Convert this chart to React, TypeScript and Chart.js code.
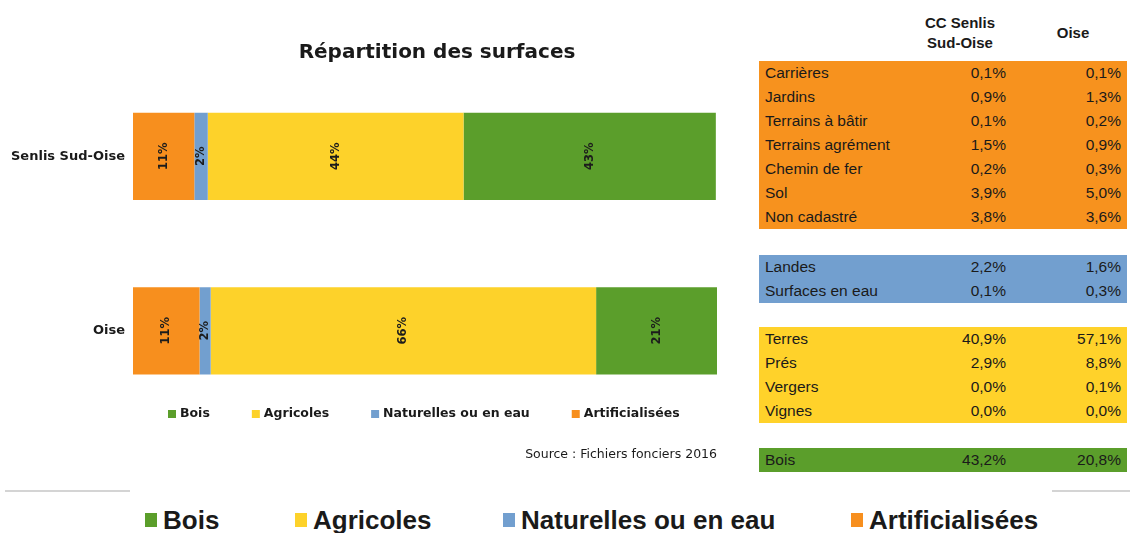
import React, { useEffect, useRef } from "react";
import { Chart, registerables } from "chart.js";

Chart.register(...registerables);

// ---- Chart data ----
const categories = ["Senlis Sud-Oise", "Oise"];
const seriesNames = ["Artificialisées", "Naturelles ou en eau", "Agricoles", "Bois"];
const artificialisees = [10.5, 11.4];
const naturelles = [2.3, 1.9];
const agricoles = [43.8, 66.0];
const bois = [43.2, 20.8];
const seriesColors = ["#F78F1E", "#729FCF", "#FDD22A", "#5B9E2B"];
const chartTitle = "Répartition des surfaces";
const sourceText = "Source : Fichiers fonciers 2016";

// ---- Table data ----
const colHeaders = ["CC Senlis\nSud-Oise", "Oise"];
const artifLabels = ["Carrières", "Jardins", "Terrains à bâtir", "Terrains agrément", "Chemin de fer", "Sol", "Non cadastré"];
const artifSenlis = [0.1, 0.9, 0.1, 1.5, 0.2, 3.9, 3.8];
const artifOise = [0.1, 1.3, 0.2, 0.9, 0.3, 5.0, 3.6];
const natLabels = ["Landes", "Surfaces en eau"];
const natSenlis = [2.2, 0.1];
const natOise = [1.6, 0.3];
const agriLabels = ["Terres", "Prés", "Vergers", "Vignes"];
const agriSenlis = [40.9, 2.9, 0.0, 0.0];
const agriOise = [57.1, 8.8, 0.1, 0.0];
const boisLabels = ["Bois"];
const boisSenlis = [43.2];
const boisOise = [20.8];

// ---- Bottom legend ----
const bigLegendLabels = ["Bois", "Agricoles", "Naturelles ou en eau", "Artificialisées"];
const bigLegendColors = ["#5B9E2B", "#FDD22A", "#729FCF", "#F78F1E"];

const fmt = (v: number) => v.toFixed(1).replace(".", ",") + "%";

const CHART_FONT = "'DejaVu Sans', sans-serif";

const decorPlugin = {
  id: "decor",
  afterDatasetsDraw(chart: any) {
    const ctx = chart.ctx as CanvasRenderingContext2D;
    ctx.save();
    ctx.fillStyle = "#1c1c1c";
    ctx.font = `bold 11.5px ${CHART_FONT}`;
    ctx.textAlign = "center";
    ctx.textBaseline = "middle";
    chart.data.datasets.forEach((ds: any, i: number) => {
      const meta = chart.getDatasetMeta(i);
      meta.data.forEach((bar: any, j: number) => {
        const v = ds.data[j] as number;
        const cx = (bar.x + bar.base) / 2;
        const cy = bar.y;
        ctx.save();
        ctx.translate(cx, cy);
        ctx.rotate(-Math.PI / 2);
        ctx.fillText(Math.round(v) + "%", 0, 0);
        ctx.restore();
      });
    });
    ctx.restore();
  },
  afterDraw(chart: any) {
    const ctx = chart.ctx as CanvasRenderingContext2D;
    const area = chart.chartArea;
    ctx.save();
    // title
    ctx.fillStyle = "#1a1a1a";
    ctx.font = `bold 20px ${CHART_FONT}`;
    ctx.textAlign = "center";
    ctx.textBaseline = "middle";
    ctx.fillText(chartTitle, 437, 53);

    // legend (reverse order of datasets)
    ctx.font = `bold 12.5px ${CHART_FONT}`;
    ctx.textAlign = "left";
    let x = 168;
    const ly = 414;
    const dsets = chart.data.datasets.slice().reverse();
    dsets.forEach((ds: any) => {
      ctx.fillStyle = ds.backgroundColor;
      ctx.fillRect(x, ly - 4, 8, 8);
      ctx.fillStyle = "#1a1a1a";
      const tx = x + 12;
      ctx.fillText(ds.label, tx, ly);
      x = tx + ctx.measureText(ds.label).width + 42;
    });

    // source
    ctx.font = `12.5px ${CHART_FONT}`;
    ctx.textAlign = "right";
    ctx.fillStyle = "#1a1a1a";
    ctx.fillText(sourceText, area.right, 455);
    ctx.restore();
  },
};

function BarChart() {
  const ref = useRef<HTMLCanvasElement | null>(null);
  useEffect(() => {
    if (!ref.current) return;
    const values = [artificialisees, naturelles, agricoles, bois];
    const chart = new Chart(ref.current, {
      type: "bar",
      data: {
        labels: categories,
        datasets: seriesNames.map((name, i) => ({
          label: name,
          data: values[i],
          backgroundColor: seriesColors[i],
          borderWidth: 0,
          barPercentage: 0.5,
          categoryPercentage: 1,
        })),
      },
      options: {
        indexAxis: "y",
        responsive: true,
        maintainAspectRatio: false,
        animation: false,
        layout: { padding: { left: 0, right: 23, top: 69, bottom: 62 } },
        plugins: {
          legend: { display: false },
          title: { display: false },
          tooltip: { enabled: false },
        },
        scales: {
          x: { stacked: true, min: 0, max: 100, display: false },
          y: {
            stacked: true,
            grid: { display: false, drawTicks: false, tickLength: 0 },
            border: { display: false },
            ticks: {
              color: "#1a1a1a",
              padding: 8,
              font: { family: CHART_FONT, weight: "bold", size: 13 },
            },
            afterFit: (s: any) => {
              s.width = 133;
            },
          },
        },
      },
      plugins: [decorPlugin],
    } as any);
    return () => chart.destroy();
  }, []);
  return (
    <div style={{ position: "absolute", left: 0, top: 0, width: 740, height: 480 }}>
      <canvas ref={ref} />
    </div>
  );
}

const ROW_H = 24;
const TABLE_LEFT = 759;
const TABLE_W = 368;

function Block(props: { top: number; color: string; labels: string[]; a: number[]; b: number[] }) {
  const { top, color, labels, a, b } = props;
  return (
    <div
      style={{
        position: "absolute",
        left: TABLE_LEFT,
        top,
        width: TABLE_W,
        height: labels.length * ROW_H,
        background: color,
      }}
    >
      {labels.map((lab, i) => (
        <div
          key={lab}
          style={{
            position: "absolute",
            left: 0,
            top: i * ROW_H,
            width: TABLE_W,
            height: ROW_H,
            lineHeight: ROW_H + "px",
            fontFamily: "'Liberation Sans', Arial, sans-serif",
            fontSize: 15.5,
            color: "#1a1a1a",
          }}
        >
          <span style={{ position: "absolute", left: 6 }}>{lab}</span>
          <span style={{ position: "absolute", right: TABLE_W - (1006 - TABLE_LEFT) }}>{fmt(a[i])}</span>
          <span style={{ position: "absolute", right: TABLE_W - (1121 - TABLE_LEFT) }}>{fmt(b[i])}</span>
        </div>
      ))}
    </div>
  );
}

function DataTable() {
  const headStyle: React.CSSProperties = {
    position: "absolute",
    fontFamily: "'Liberation Sans', Arial, sans-serif",
    fontWeight: "bold",
    fontSize: 15,
    color: "#1a1a1a",
    textAlign: "center",
    lineHeight: "20px",
    whiteSpace: "pre",
  };
  return (
    <>
      <div style={{ ...headStyle, left: 900, width: 120, top: 13 }}>{colHeaders[0]}</div>
      <div style={{ ...headStyle, left: 1033, width: 80, top: 23 }}>{colHeaders[1]}</div>
      <Block top={61} color="#F7921E" labels={artifLabels} a={artifSenlis} b={artifOise} />
      <Block top={255} color="#729FCF" labels={natLabels} a={natSenlis} b={natOise} />
      <Block top={327} color="#FFD22A" labels={agriLabels} a={agriSenlis} b={agriOise} />
      <Block top={448} color="#5B9E2B" labels={boisLabels} a={boisSenlis} b={boisOise} />
    </>
  );
}

function BigLegend() {
  const starts = [145, 295, 503, 851];
  return (
    <>
      <div style={{ position: "absolute", left: 5, top: 490, width: 125, height: 2, background: "#d4d4d4" }} />
      <div style={{ position: "absolute", left: 1052, top: 490, width: 78, height: 2, background: "#d4d4d4" }} />
      {bigLegendLabels.map((lab, i) => (
        <div
          key={lab}
          style={{
            position: "absolute",
            left: starts[i],
            top: 505,
            height: 30,
            display: "flex",
            alignItems: "center",
            whiteSpace: "nowrap",
          }}
        >
          <span style={{ display: "inline-block", width: 12, height: 14, background: bigLegendColors[i], marginRight: 6 }} />
          <span
            style={{
              fontFamily: "'Liberation Sans', Arial, sans-serif",
              fontWeight: "bold",
              fontSize: 26,
              color: "#1a1a1a",
            }}
          >
            {lab}
          </span>
        </div>
      ))}
    </>
  );
}

export default function App() {
  return (
    <div
      style={{
        position: "absolute",
        left: 0,
        top: 0,
        width: 1130,
        height: 533,
        background: "#ffffff",
        overflow: "hidden",
      }}
    >
      <BarChart />
      <DataTable />
      <BigLegend />
    </div>
  );
}
